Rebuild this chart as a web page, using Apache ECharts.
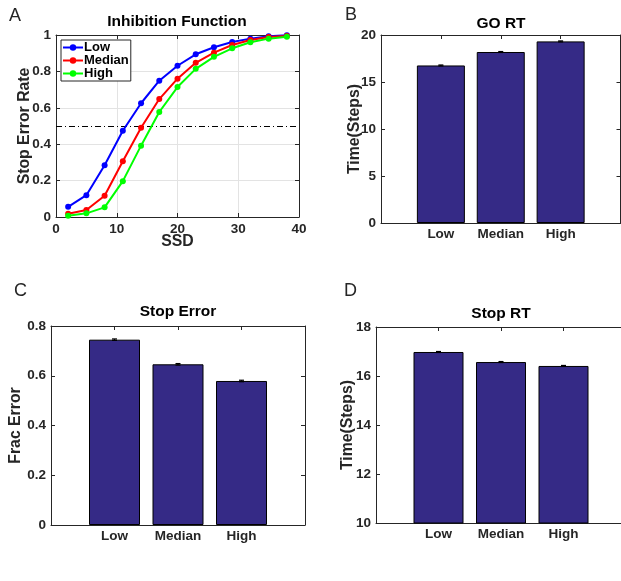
<!DOCTYPE html>
<html>
<head>
<meta charset="utf-8">
<script src="https://cdn.jsdelivr.net/npm/echarts@6/dist/echarts.min.js"></script>
<style>html,body{margin:0;padding:0;background:#fff;}#c{width:621px;height:581px;}</style>
</head>
<body>
<div id="c"></div>
<script>
// ---- Data ----
const ssd = [2, 5, 8, 11, 14, 17, 20, 23, 26, 29, 32, 35, 38];
const lowRate    = [0.056, 0.12, 0.284, 0.474, 0.625, 0.749, 0.831, 0.894, 0.933, 0.962, 0.980, 0.993, 0.998];
const medianRate = [0.018, 0.038, 0.117, 0.306, 0.490, 0.648, 0.760, 0.847, 0.903, 0.945, 0.973, 0.989, 0.995];
const highRate   = [0.007, 0.020, 0.053, 0.197, 0.392, 0.577, 0.714, 0.814, 0.880, 0.927, 0.960, 0.980, 0.991];
const threshold = 0.5;

const groups = ['Low', 'Median', 'High'];
const goRT = [16.76, 18.19, 19.32];
const goRTErr = [0.05, 0.05, 0.05];
const stopError = [0.745, 0.646, 0.579];
const stopErrorErr = [0.003, 0.003, 0.003];
const stopRT = [16.98, 16.57, 16.41];
const stopRTErr = [0.02, 0.02, 0.02];

// ---- Style ----
const FONT = 'Liberation Sans, Arial, Helvetica, sans-serif';
const AX = '#262626';
const BAR = '#352a86';

const chart = echarts.init(document.getElementById('c'), null, {renderer: 'canvas'});

const grids = [
  {left: 56, top: 35, width: 243, height: 182},
  {left: 381, top: 35, width: 239.5, height: 188},
  {left: 51, top: 326, width: 254, height: 199},
  {left: 376, top: 327, width: 250, height: 196}
];

const labelStyle = {color: AX, fontFamily: FONT, fontWeight: 'bold', fontSize: 13.5};
const nameStyle = {color: AX, fontFamily: FONT, fontWeight: 'bold', fontSize: 15.8};

function mainX(gi, opts) {
  return Object.assign({
    gridIndex: gi, type: 'value', position: 'bottom',
    axisLine: {show: true, onZero: false, lineStyle: {color: AX, width: 1}},
    axisTick: {show: true, inside: true, length: 4, lineStyle: {color: AX}},
    splitLine: {show: false},
    axisLabel: Object.assign({margin: 5}, labelStyle),
    nameMoveOverlap: false
  }, opts);
}
function mirrorX(gi, opts) {
  return Object.assign({
    gridIndex: gi, type: 'value', position: 'top',
    axisLine: {show: true, onZero: false, lineStyle: {color: AX, width: 1}},
    axisTick: {show: true, inside: true, length: 4, lineStyle: {color: AX}},
    axisLabel: {show: false}, splitLine: {show: false}
  }, opts);
}
function mainY(gi, opts) {
  return Object.assign({
    gridIndex: gi, type: 'value', position: 'left',
    axisLine: {show: true, onZero: false, lineStyle: {color: AX, width: 1}},
    axisTick: {show: true, inside: true, length: 4, lineStyle: {color: AX}},
    splitLine: {show: false},
    axisLabel: Object.assign({margin: 5}, labelStyle),
    nameLocation: 'middle', nameTextStyle: nameStyle,
    nameMoveOverlap: false
  }, opts);
}
function mirrorY(gi, opts) {
  return Object.assign({
    gridIndex: gi, type: 'value', position: 'right',
    axisLine: {show: true, onZero: false, lineStyle: {color: AX, width: 1}},
    axisTick: {show: true, inside: true, length: 4, lineStyle: {color: AX}},
    axisLabel: {show: false}, splitLine: {show: false}
  }, opts);
}
const catFmt = v => (Number.isInteger(v) && v >= 1 && v <= groups.length) ? groups[v - 1] : '';
const gridLine = {show: true, lineStyle: {color: '#e3e3e3', width: 1}};

const xAxes = [
  mainX(0, {min: 0, max: 40, interval: 10, splitLine: gridLine, name: 'SSD', nameLocation: 'middle', nameGap: 17, nameTextStyle: nameStyle}),
  mirrorX(0, {min: 0, max: 40, interval: 10}),
  mainX(1, {min: 0, max: 4, interval: 1, axisLabel: Object.assign({margin: 4, formatter: catFmt}, labelStyle)}),
  mirrorX(1, {min: 0, max: 4, interval: 1}),
  mainX(2, {min: 0, max: 4, interval: 1, axisLabel: Object.assign({margin: 4, formatter: catFmt}, labelStyle)}),
  mirrorX(2, {min: 0, max: 4, interval: 1}),
  mainX(3, {min: 0, max: 4, interval: 1, axisLabel: Object.assign({margin: 4, formatter: catFmt}, labelStyle)}),
  mirrorX(3, {min: 0, max: 4, interval: 1})
];
const yAxes = [
  mainY(0, {min: 0, max: 1, interval: 0.2, splitLine: gridLine, name: 'Stop Error Rate', nameGap: 23}),
  mirrorY(0, {min: 0, max: 1, interval: 0.2}),
  mainY(1, {min: 0, max: 20, interval: 5, name: 'Time(Steps)', nameGap: 18}),
  mirrorY(1, {min: 0, max: 20, interval: 5}),
  mainY(2, {min: 0, max: 0.8, interval: 0.2, name: 'Frac Error', nameGap: 27}),
  mirrorY(2, {min: 0, max: 0.8, interval: 0.2}),
  mainY(3, {min: 10, max: 18, interval: 2, name: 'Time(Steps)', nameGap: 20}),
  mirrorY(3, {min: 10, max: 18, interval: 2})
];

function lineSeries(name, color, vals, extra) {
  return Object.assign({
    name: name, type: 'line', xAxisIndex: 0, yAxisIndex: 0,
    data: ssd.map((x, i) => [x, vals[i]]),
    color: color,
    lineStyle: {color: color, width: 2},
    itemStyle: {color: color},
    symbol: 'circle', symbolSize: 6, showSymbol: true,
    z: 5, animation: false
  }, extra || {});
}
function barSeries(xi, yi, vals, bw) {
  return {
    type: 'bar', xAxisIndex: xi, yAxisIndex: yi,
    data: vals.map((v, i) => [i + 1, v]),
    barWidth: bw,
    itemStyle: {color: BAR, borderColor: '#000', borderWidth: 1},
    animation: false
  };
}
function errSeries(xi, yi, vals, errs) {
  return {
    type: 'custom', xAxisIndex: xi, yAxisIndex: yi,
    data: vals.map((v, i) => [i + 1, v, errs[i]]),
    renderItem: function (params, api) {
      const x = api.value(0), y = api.value(1), e = api.value(2);
      const t = api.coord([x, y + e]);
      const b = api.coord([x, y - e]);
      const hw = 2.5;
      const st = {stroke: '#000', lineWidth: 1.2};
      return {type: 'group', children: [
        {type: 'line', shape: {x1: t[0], y1: t[1], x2: b[0], y2: b[1]}, style: st},
        {type: 'line', shape: {x1: t[0] - hw, y1: t[1], x2: t[0] + hw, y2: t[1]}, style: st},
        {type: 'line', shape: {x1: b[0] - hw, y1: b[1], x2: b[0] + hw, y2: b[1]}, style: st}
      ]};
    },
    z: 10, animation: false
  };
}

const titleStyle = {color: '#000', fontFamily: FONT, fontWeight: 'bold', fontSize: 15.5};
const letterStyle = {color: AX, fontFamily: FONT, fontWeight: 'normal', fontSize: 18};

const option = {
  animation: false,
  backgroundColor: '#fff',
  title: [
    {text: 'Inhibition Function', left: 177, top: 14, textAlign: 'center', textStyle: titleStyle, padding: 0},
    {text: 'GO RT', left: 501, top: 16, textAlign: 'center', textStyle: titleStyle, padding: 0},
    {text: 'Stop Error', left: 178, top: 304, textAlign: 'center', textStyle: titleStyle, padding: 0},
    {text: 'Stop RT', left: 501, top: 306, textAlign: 'center', textStyle: titleStyle, padding: 0},
    {text: 'A', left: 9, top: 7, textStyle: letterStyle, padding: 0},
    {text: 'B', left: 345, top: 6, textStyle: letterStyle, padding: 0},
    {text: 'C', left: 14, top: 282, textStyle: letterStyle, padding: 0},
    {text: 'D', left: 344, top: 282, textStyle: letterStyle, padding: 0}
  ],
  legend: {
    data: ['Low', 'Median', 'High'],
    orient: 'vertical', left: 61, top: 40,
    backgroundColor: '#fff', borderColor: AX, borderWidth: 1, borderRadius: 0,
    padding: [1, 2, 1, 1], itemGap: 0, itemWidth: 20, itemHeight: 8,
    textStyle: {color: '#000', fontFamily: FONT, fontWeight: 'bold', fontSize: 13, padding: [0, 0, 0, -4]},
    z: 20
  },
  grid: grids.map(g => Object.assign({containLabel: false, outerBoundsMode: 'none'}, g)),
  xAxis: xAxes,
  yAxis: yAxes,
  series: [
    lineSeries('Low', '#0000ff', lowRate),
    lineSeries('Median', '#ff0000', medianRate),
    lineSeries('High', '#00ff00', highRate, {
      markLine: {
        silent: true, symbol: ['none', 'none'], label: {show: false},
        lineStyle: {color: '#000', width: 1, type: [6, 3, 1, 3]},
        data: [{yAxis: threshold}]
      }
    }),
    barSeries(2, 2, goRT, 48), errSeries(2, 2, goRT, goRTErr),
    barSeries(4, 4, stopError, 51), errSeries(4, 4, stopError, stopErrorErr),
    barSeries(6, 6, stopRT, 50), errSeries(6, 6, stopRT, stopRTErr)
  ]
};
chart.setOption(option);
</script>
</body>
</html>
